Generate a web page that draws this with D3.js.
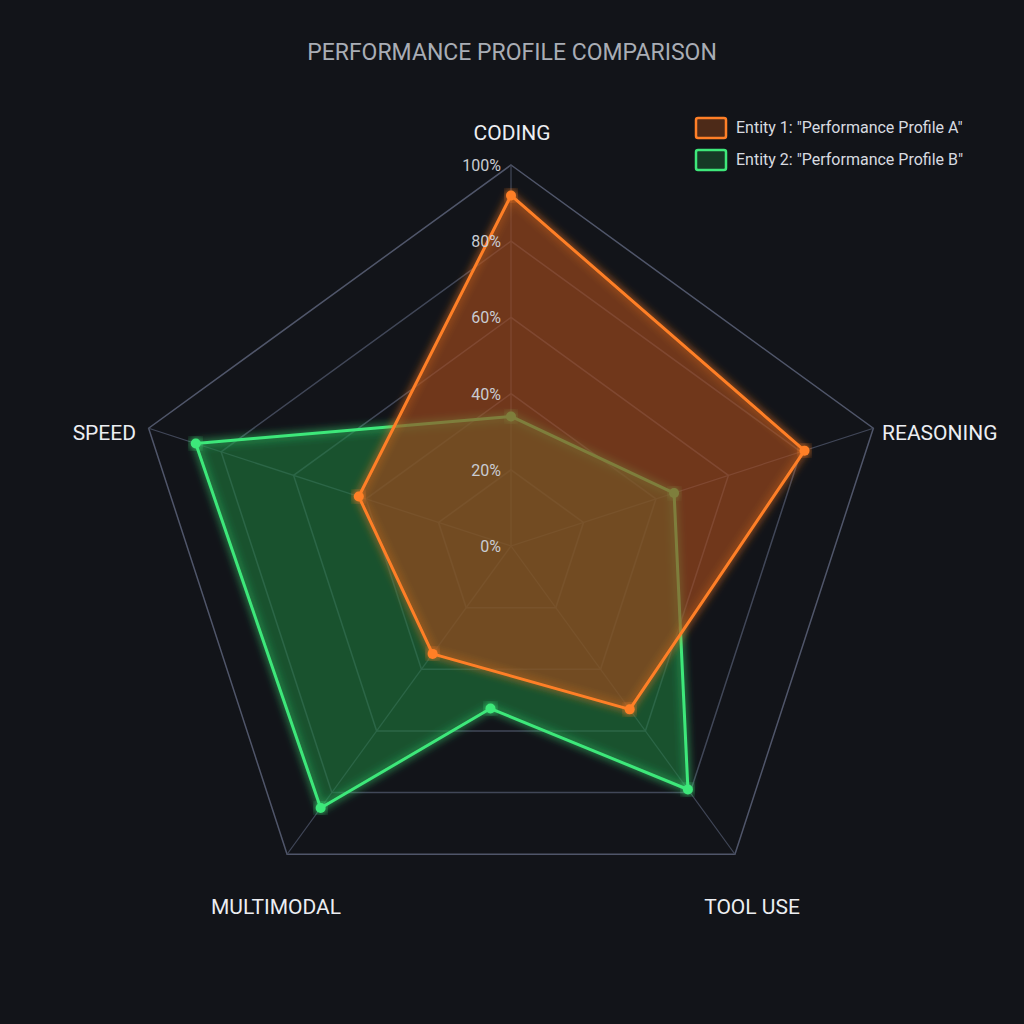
<!DOCTYPE html>
<html><head><meta charset="utf-8">
<script src="https://cdn.jsdelivr.net/npm/d3@7"></script>
<style>
body{margin:0;background:#121419;}
text{font-family:Roboto,"Noto Sans",sans-serif;}
</style></head>
<body><svg id="chart" width="1024" height="1024"></svg>
<script>
const axes = ["CODING", "REASONING", "TOOL USE", "MULTIMODAL", "SPEED"];
const levels = [0, 20, 40, 60, 80, 100];
// each point: axis position (fractional = between axes) and value in %
const seriesA = [
    { pos: 0, v: 92 }, { pos: 1, v: 81 }, { pos: 2, v: 53 },
    { pos: 3, v: 35 }, { pos: 4, v: 42 },
];
const seriesB = [
    { pos: 0, v: 34 }, { pos: 1, v: 45 }, { pos: 2, v: 79 },
    { pos: 2.6, v: 43 }, { pos: 3, v: 85 }, { pos: 4, v: 87 },
];
const legendNames = ['Entity 1: "Performance Profile A"', 'Entity 2: "Performance Profile B"'];
const colors = ["#ff7f27", "#3ee87a"];
const fills = ["rgba(160,75,25,0.42)", "rgba(30,120,60,0.38)"];

const svg = d3.select("#chart");
const cx = 511, cy = 546;
const r = d3.scaleLinear().domain([0, 100]).range([0, 381]);
const ang = (p) => (-90 + p * 72) * Math.PI / 180;
const pt = (p, v) => [cx + r(v) * Math.cos(ang(p)), cy + r(v) * Math.sin(ang(p))];

const defs = svg.append("defs");
const f = defs.append("filter").attr("id", "glow").attr("x", "-20%").attr("y", "-20%").attr("width", "140%").attr("height", "140%");
f.append("feGaussianBlur").attr("stdDeviation", 4).attr("result", "b");
const m = f.append("feMerge");
m.append("feMergeNode").attr("in", "b");
m.append("feMergeNode").attr("in", "SourceGraphic");

svg.append("text").attr("x", 512).attr("y", 60).attr("text-anchor", "middle")
    .attr("fill", "#a9adb5").attr("font-size", 23).text("PERFORMANCE PROFILE COMPARISON");

const grid = svg.append("g");
levels.slice(1).forEach((l) => {
    grid.append("polygon")
        .attr("points", axes.map((a, i) => pt(i, l).join(",")).join(" "))
        .attr("fill", "none").attr("stroke", l === 100 ? "#50566a" : "#414758").attr("stroke-width", 1.5);
});
axes.forEach((a, i) => {
    const [x, y] = pt(i, 100);
    grid.append("line").attr("x1", cx).attr("y1", cy).attr("x2", x).attr("y2", y)
        .attr("stroke", "#414758").attr("stroke-width", 1.2);
});

[[seriesB, 1], [seriesA, 0]].forEach(([s, k]) => {
    const g = svg.append("g");
    const pts = s.map((d) => pt(d.pos, d.v));
    g.append("polygon").attr("points", pts.map((p) => p.join(",")).join(" "))
        .attr("fill", fills[k]).attr("stroke", colors[k]).attr("stroke-width", 3)
        .attr("stroke-linejoin", "round").attr("filter", "url(#glow)");
    g.selectAll("circle").data(pts).join("circle")
        .attr("cx", (d) => d[0]).attr("cy", (d) => d[1]).attr("r", 5)
        .attr("fill", colors[k]).attr("filter", "url(#glow)");
});

levels.forEach((l) => {
    svg.append("text").attr("x", cx - 10).attr("y", cy - r(l) + 6).attr("text-anchor", "end")
        .attr("fill", "#c9ccd2").attr("font-size", 16).text(l + "%");
});

const labelPos = [[512, 140, "middle"], [882, 440, "start"], [752, 914, "middle"], [276, 914, "middle"], [136, 440, "end"]];
axes.forEach((a, i) => {
    svg.append("text").attr("x", labelPos[i][0]).attr("y", labelPos[i][1])
        .attr("text-anchor", labelPos[i][2]).attr("fill", "#eceef2").attr("font-size", 21).text(a);
});

legendNames.forEach((n, k) => {
    const y = 118 + k * 32;
    svg.append("rect").attr("x", 696).attr("y", y).attr("width", 30).attr("height", 20).attr("rx", 2)
        .attr("fill", fills[k]).attr("stroke", colors[k]).attr("stroke-width", 2.5);
    svg.append("text").attr("x", 736).attr("y", y + 15).attr("fill", "#d8dbe0").attr("font-size", 16).text(n);
});
</script></body></html>
